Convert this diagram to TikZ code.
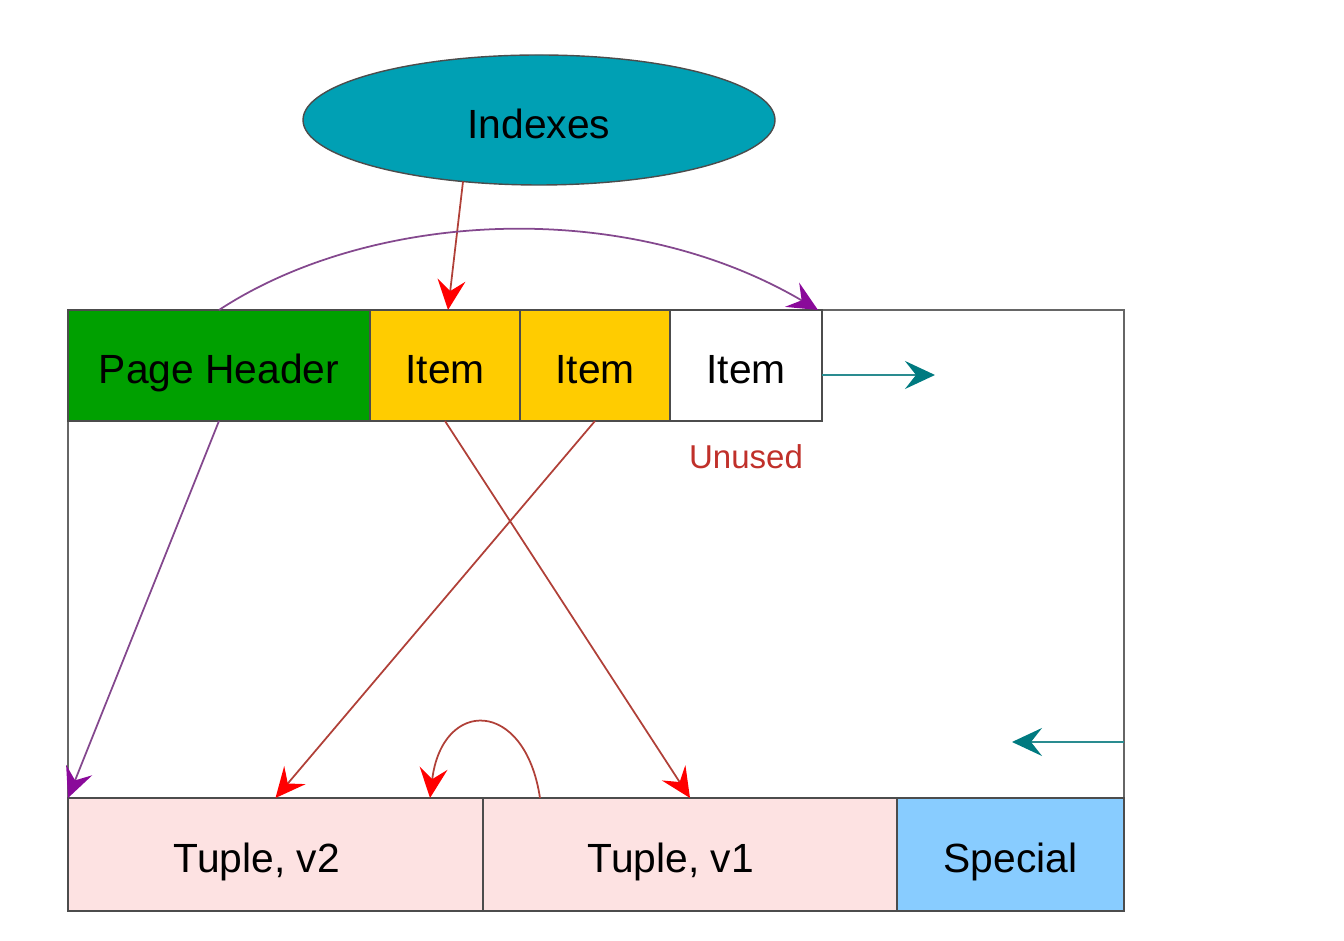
\documentclass[tikz,border=0pt]{standalone}
\usepackage{fontspec}
\setmainfont{Liberation Sans}
\usetikzlibrary{arrows.meta,calc,shapes.geometric}

\definecolor{hdrgreen}{HTML}{00A000}
\definecolor{itemyellow}{HTML}{FFCC00}
\definecolor{idxteal}{HTML}{00A0B4}
\definecolor{tuplepink}{HTML}{FDE2E2}
\definecolor{specblue}{HTML}{88CCFF}
\definecolor{ptrline}{HTML}{B04038}
\definecolor{hdrline}{HTML}{84488E}
\definecolor{hdrhead}{HTML}{8A0A9A}
\definecolor{freeline}{HTML}{2A8C90}
\definecolor{freehead}{HTML}{007A80}
\definecolor{unusedred}{HTML}{C0302A}

\begin{document}
\begin{tikzpicture}[
	every node/.style={font=\fontsize{11.6}{14}\selectfont, inner sep=0pt, outer sep=0pt},
	cell/.style={draw=black!70, line width=0.4pt, minimum height=1.11cm, text height=0.37cm, text depth=0pt},
	ptr/.style={draw=ptrline, line width=0.5pt, -{Stealth[length=3mm,width=2.8mm,inset=1.1mm,color=red]}},
	hdr/.style={draw=hdrline, line width=0.5pt, -{Stealth[length=3mm,width=2.8mm,inset=1.1mm,color=hdrhead]}},
	free/.style={draw=freeline, line width=0.5pt, -{Stealth[length=3mm,width=2.8mm,inset=1.1mm,color=freehead]}}]
	\useasboundingbox (0,0) rectangle (13.44,9.41);
	% page
	\node[draw=black!60, line width=0.4pt, minimum width=10.56cm, minimum height=6.01cm] (PG) at (5.96,3.305) {};
	\node[ellipse, draw=black!70, fill=idxteal, minimum width=4.72cm, minimum height=1.30cm, text height=0.37cm, text depth=0pt] (IDX) at (5.39,8.21) {Indexes};
	% line pointers
	\node[cell, fill=hdrgreen, minimum width=3.02cm] (PH) at (2.19,5.755) {Page Header};
	\node[cell, fill=itemyellow, minimum width=1.50cm] (I1) at (4.45,5.755) {Item};
	\node[cell, fill=itemyellow, minimum width=1.50cm] (I2) at (5.95,5.755) {Item};
	\node[cell, fill=white, minimum width=1.52cm] (I3) at (7.46,5.755) {Item};
	\node[text=unusedred, font=\fontsize{9.4}{11}\selectfont] (UN) at (7.46,4.84) {Unused};
	% tuples
	\node[cell, fill=tuplepink, minimum width=4.15cm, minimum height=1.13cm] (T2) at (2.755,0.865) {Tuple, v2\hspace*{0.37cm}};
	\node[cell, fill=tuplepink, minimum width=4.14cm, minimum height=1.13cm] (T1) at (6.90,0.865) {Tuple, v1\hspace*{0.38cm}};
	\node[cell, fill=specblue, minimum width=2.27cm, minimum height=1.13cm] (SP) at (10.105,0.865) {Special};
	\coordinate (F1) at (9.35,5.66);
	\coordinate (F2a) at (11.24,1.99);
	\coordinate (F2b) at (10.12,1.99);
	\draw[ptr] (IDX.219) -- ($(I1.north)+(0.03,0)$);
	\draw[hdr] (PH.north) .. controls (3.7,7.30) and (6.24,7.45) .. ($(I3.north east)+(-0.04,0)$);
	\draw[hdr] (PH.south) -- (T2.north west);
	\draw[ptr] (I2.south) -- (T2.north);
	\draw[ptr] (I1.south) -- (T1.north);
	\draw[ptr] ($(T1.north west)+(0.57,0)$) .. controls +(-0.15,1.0) and +(0.12,1.0) .. ($(T2.north east)+(-0.53,0)$);
	\draw[free] (I3.east |- F1) -- (F1);
	\draw[free] (F2a) -- (F2b);
\end{tikzpicture}
\end{document}
